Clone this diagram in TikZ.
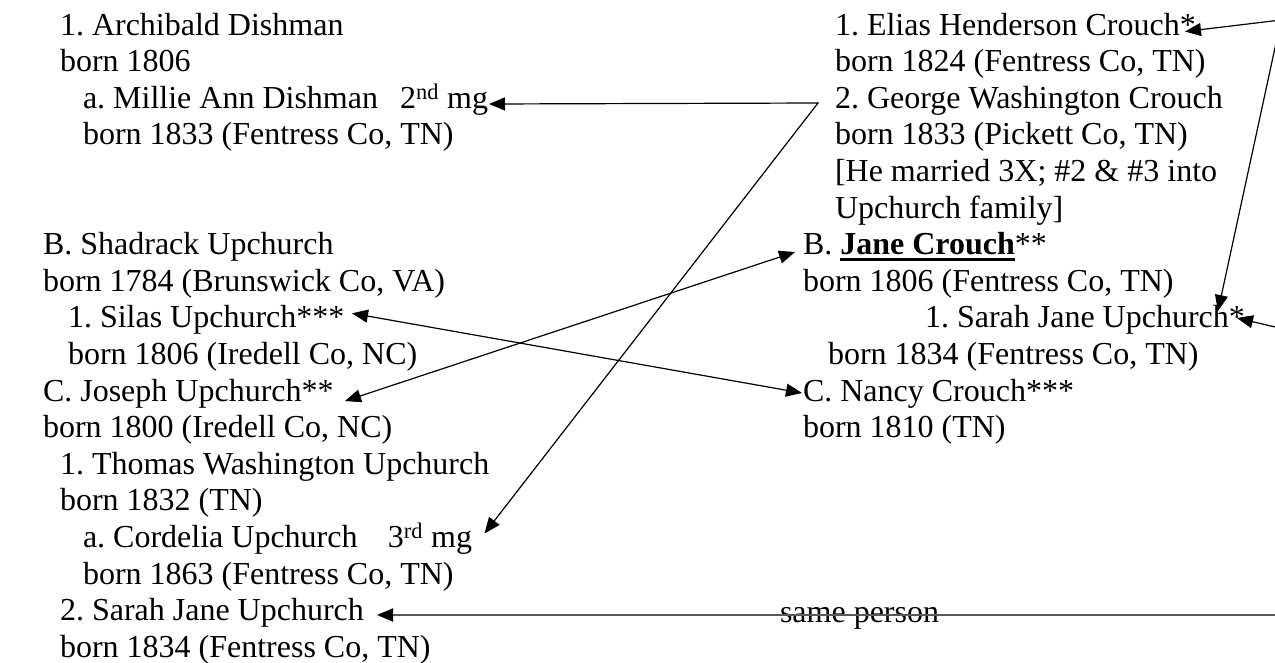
\documentclass[tikz,border=0pt]{standalone}
\usepackage{fontspec}
\setmainfont{Liberation Serif}
\usetikzlibrary{arrows.meta}
\frenchspacing
\newcommand\janeul[1]{\sbox0{#1}\rlap{\rule[-6pt]{\wd0}{3pt}}\usebox0}
\tikzset{
  txt/.style={anchor=base west, inner sep=0pt, outer sep=0pt, font=\fontsize{32}{36.6}\selectfont\frenchspacing},
  txte/.style={txt, anchor=base east},
  link/.style={line width=1.2pt, -{Triangle[length=16pt,width=13pt]}},
  both/.style={line width=1.2pt, {Triangle[length=16pt,width=13pt]}-{Triangle[length=16pt,width=13pt]}},
  samelink/.style={line width=2pt, draw=black!65, -{Triangle[length=16pt,width=13pt,color=black]}}
}
\begin{document}
\begin{tikzpicture}[x=1pt,y=-1pt]
\useasboundingbox (0,0) rectangle (1275,662);
\clip (0,0) rectangle (1275,662);
% left column
\node[txt] (l1) at (60,35) {1. Archibald Dishman};
\node[txt] (l2) at (60,71.6) {born 1806};
\node[txt] (l3) at (83,108.2) {a. Millie Ann Dishman};
\node[txte] (l3m) at (488,108.2) {2\textsuperscript{nd} mg};
\node[txt] (l4) at (83,144.8) {born 1833 (Fentress Co, TN)};
\node[txt] (l5) at (43,254.6) {B. Shadrack Upchurch};
\node[txt] (l6) at (43,291.2) {born 1784 (Brunswick Co, VA)};
\node[txt] (l7) at (68,327.8) {1. Silas Upchurch***};
\node[txt] (l8) at (68,364.4) {born 1806 (Iredell Co, NC)};
\node[txt] (l9) at (43,401) {C. Joseph Upchurch**};
\node[txt] (l10) at (43,437.6) {born 1800 (Iredell Co, NC)};
\node[txt] (l11) at (60,474.2) {1. Thomas Washington Upchurch};
\node[txt] (l12) at (60,510.8) {born 1832 (TN)};
\node[txt] (l13) at (83,547.4) {a. Cordelia Upchurch};
\node[txte] (l13m) at (472,547.4) {3\textsuperscript{rd} mg};
\node[txt] (l14) at (83,584) {born 1863 (Fentress Co, TN)};
\node[txt] (l15) at (60,620.6) {2. Sarah Jane Upchurch};
\node[txt] (l16) at (60,657.2) {born 1834 (Fentress Co, TN)};
% right column
\node[txt] (r1) at (835,35) {1. Elias Henderson Crouch*};
\node[txt] (r2) at (835,71.6) {born 1824 (Fentress Co, TN)};
\node[txt] (r3) at (835,108.2) {2. George Washington Crouch};
\node[txt] (r4) at (835,144.8) {born 1833 (Pickett Co, TN)};
\node[txt] (r5) at (835,181.4) {[He married 3X; \#2 \& \#3 into};
\node[txt] (r6) at (835,218) {Upchurch family]};
\node[txt] (r7) at (803,254.6) {B. \janeul{\textbf{Jane Crouch}}**};
\node[txt] (r8) at (803,291.2) {born 1806 (Fentress Co, TN)};
\node[txt] (r9) at (925,327.8) {1. Sarah Jane Upchurch*};
\node[txt] (r10) at (828,364.4) {born 1834 (Fentress Co, TN)};
\node[txt] (r11) at (803,401) {C. Nancy Crouch***};
\node[txt] (r12) at (803,437.6) {born 1810 (TN)};
\node[txt] (same) at (780,622) {same person};
% free ends
\coordinate (topR) at (1281,20);
\coordinate (corner) at (818,103);
\coordinate (rSarah) at (1290,330.5);
\coordinate (rSame) at (1290,615);
% connectors
\draw[link] (topR) -- ([shift={(350,-3.5)}]r1.base west);
\draw[link] (topR) -- ([shift={(293,-16.8)}]r9.base west);
\draw[link] (rSarah) -- ([shift={(312,-9.8)}]r9.base west);
\draw[both] ([shift={(406,-4.2)}]l3.base west) -- (corner) -- ([shift={(401.5,-13.9)}]l13.base west);
\draw[both] ([shift={(-8,-2.6)}]r7.base west) -- ([shift={(302,0)}]l9.base west);
\draw[both] ([shift={(284,-14.5)}]l7.base west) -- ([shift={(-1,-8)}]r11.base west);
\draw[samelink] (rSame) -- ([shift={(317,-5.6)}]l15.base west);
\end{tikzpicture}
\end{document}
